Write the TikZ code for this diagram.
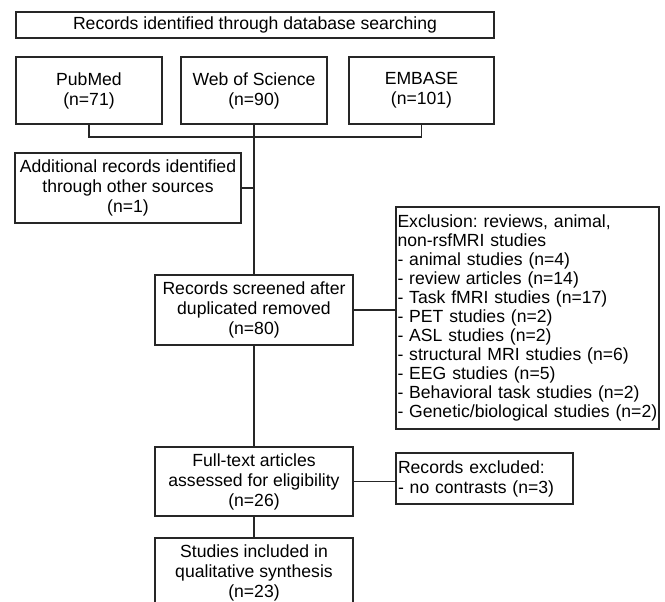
\documentclass[tikz,border=0pt]{standalone}
\usepackage{fontspec}
\setmainfont{Liberation Sans}
\frenchspacing
\begin{document}
\begin{tikzpicture}[x=1pt,y=-1pt,
  box/.style={draw=black!85, line width=1.3pt, inner sep=0pt, align=center,
    font=\fontsize{17.6}{20}\selectfont, text=black},
  lbox/.style={box, align=left, inner xsep=2pt},
  link/.style={draw=black!85, line width=1.3pt}]
\useasboundingbox (0,0) rectangle (665,602);
\clip (0,0) rectangle (665,602);
\node[box, minimum width=478pt, minimum height=26pt] (top) at (255,25)
  {Records identified through database searching};
\node[box, minimum width=146pt, minimum height=67pt] (pub) at (89,90.5)
  {PubMed\\(n=71)};
\node[box, minimum width=146pt, minimum height=67pt] (wos) at (254,90.5)
  {Web of Science\\(n=90)};
\node[box, minimum width=145pt, minimum height=67pt] (emb) at (421.5,90.5)
  {EMBASE\\(n=101)};
\coordinate (jn) at (254,137);
\node[box, minimum width=226pt, minimum height=70pt] (add) at (128,188)
  {Additional records identified\\through other sources\\(n=1)};
\node[box, minimum width=198pt, minimum height=70pt] (scr) at (254,310)
  {Records screened after\\duplicated removed\\(n=80)};
\node[lbox, inner xsep=0pt, text width=260pt, minimum width=263pt, minimum height=222pt,
  font=\fontsize{17.6}{19}\selectfont] (excl) at (527.5,318)
  {Exclusion: reviews, animal,\\non-rsfMRI studies\\- animal studies (n=4)\\- review articles (n=14)\\- Task fMRI studies (n=17)\\- PET studies (n=2)\\- ASL studies (n=2)\\- structural MRI studies (n=6)\\- EEG studies (n=5)\\- Behavioral task studies (n=2)\\- Genetic/biological studies~(n=2)};
\node[lbox, text width=173pt, minimum height=51pt] (rexc) at (484.5,478.5)
  {Records excluded:\\- no contrasts (n=3)};
\node[box, minimum width=198pt, minimum height=69pt] (full) at (254,481.5)
  {Full-text articles\\assessed for eligibility\\(n=26)};
\node[box, minimum width=198pt, minimum height=70pt] (stud) at (254,573)
  {Studies included in\\qualitative synthesis\\(n=23)};
\draw[link] (pub.south) |- (jn) -| (emb.south);
\draw[link] (wos.south) -- (scr.north);
\draw[link] (add.east) -- (add.east -| wos.south);
\draw[link] (scr.east) -- (scr.east -| excl.west);
\draw[link] (scr.south) -- (full.north);
\draw[link] (full.east) -- (full.east -| rexc.west);
\draw[link] (full.south) -- (stud.north);
\end{tikzpicture}
\end{document}
